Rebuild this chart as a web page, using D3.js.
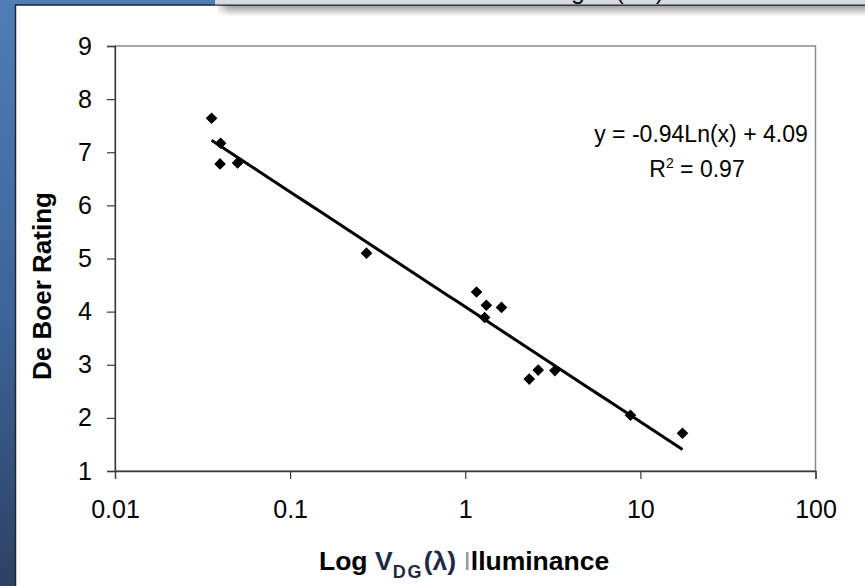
<!DOCTYPE html>
<html>
<head>
<meta charset="utf-8">
<script src="https://cdn.jsdelivr.net/npm/d3@7"></script>
<style>
  html, body { margin: 0; padding: 0; background: #ffffff; }
  svg { display: block; font-family: "Liberation Sans", Arial, sans-serif; }
</style>
</head>
<body>
<svg id="chart" width="865" height="586"></svg>
<script>
// Measured samples: luminance ratio (log scale) vs. De Boer glare rating
const illuminance = [0.0356, 0.0401, 0.0398, 0.0501, 0.273, 1.16, 1.32, 1.61, 1.29, 2.32, 2.61, 3.25, 8.78, 17.4];
const rating      = [7.64,   7.17,   6.78,   6.80,   5.10,  4.37, 4.12, 4.08, 3.89, 2.73, 2.90, 2.89, 2.05, 1.71];

const xTicks = [0.01, 0.1, 1, 10, 100];
const xTickLabels = ["0.01", "0.1", "1", "10", "100"];
const yTicks = [1, 2, 3, 4, 5, 6, 7, 8, 9];

// Logarithmic trendline y = a·ln(x) + b
const trendSlope = -0.94;
const trendIntercept = 4.09;
const trendR2 = 0.97;

const svg = d3.select("#chart");
const W = 865, H = 586;
const plot = { left: 115, right: 815.5, top: 46, bottom: 471 };

// ---- slide background: blue edge, white panel, header bar with shadow ----
const defs = svg.append("defs");
const blueGrad = defs.append("linearGradient").attr("id", "blueGrad")
  .attr("x1", 0).attr("y1", 0).attr("x2", 0).attr("y2", 1);
blueGrad.append("stop").attr("offset", "0%").attr("stop-color", "#4f7db6");
blueGrad.append("stop").attr("offset", "55%").attr("stop-color", "#3d6397");
blueGrad.append("stop").attr("offset", "100%").attr("stop-color", "#2b4264");

const shadowGrad = defs.append("linearGradient").attr("id", "shadowGrad")
  .attr("x1", 0).attr("y1", 0).attr("x2", 0).attr("y2", 1);
shadowGrad.append("stop").attr("offset", "0%").attr("stop-color", "#000").attr("stop-opacity", 0.38);
shadowGrad.append("stop").attr("offset", "100%").attr("stop-color", "#000").attr("stop-opacity", 0);

const shadowEdge = defs.append("linearGradient").attr("id", "shadowEdge")
  .attr("x1", 0).attr("y1", 0).attr("x2", 1).attr("y2", 0);
shadowEdge.append("stop").attr("offset", "0%").attr("stop-color", "#fff").attr("stop-opacity", 1);
shadowEdge.append("stop").attr("offset", "100%").attr("stop-color", "#fff").attr("stop-opacity", 0);

defs.append("clipPath").attr("id", "headerClip")
  .append("rect").attr("x", 215).attr("y", 0).attr("width", W - 215).attr("height", 5);

svg.append("rect").attr("x", 0).attr("y", 0).attr("width", W).attr("height", H).attr("fill", "url(#blueGrad)");
svg.append("rect").attr("x", 15.5).attr("y", 5).attr("width", W - 15.5).attr("height", H - 5).attr("fill", "#ffffff");
svg.append("path").attr("d", `M15.5,${H}V5H${W}`).attr("fill", "none").attr("stroke", "#1d2633").attr("stroke-width", 1.5);

// header bar shadow
svg.append("rect").attr("x", 218).attr("y", 5.5).attr("width", W - 218).attr("height", 11).attr("fill", "url(#shadowGrad)");
svg.append("rect").attr("x", 215).attr("y", 5.5).attr("width", 14).attr("height", 11).attr("fill", "url(#shadowEdge)");

// header bar (only the lowest strip of its caption is visible)
svg.append("rect").attr("x", 215).attr("y", 0).attr("width", W - 215).attr("height", 5).attr("fill", "#d6dae1");
svg.append("text").attr("clip-path", "url(#headerClip)")
  .attr("x", 664).attr("y", -1).attr("text-anchor", "end")
  .attr("font-size", 25).attr("fill", "#111")
  .text("De Boer vs. Log V (lux)");
svg.append("line").attr("x1", 215).attr("x2", W).attr("y1", 5).attr("y2", 5)
  .attr("stroke", "#2a2a2a").attr("stroke-width", 1.2);

// ---- scales ----
const x = d3.scaleLog().domain([0.01, 100]).range([plot.left, plot.right]);
const y = d3.scaleLinear().domain([1, 9]).range([plot.bottom, plot.top]);

// plot frame
svg.append("rect")
  .attr("x", plot.left).attr("y", plot.top)
  .attr("width", plot.right - plot.left).attr("height", plot.bottom - plot.top)
  .attr("fill", "#ffffff").attr("stroke", "#8a8a8a").attr("stroke-width", 1.5);

// ---- axes ----
const yAxis = svg.append("g").attr("transform", `translate(${plot.left},0)`)
  .call(d3.axisLeft(y).tickValues(yTicks).tickSize(8).tickPadding(15).tickFormat(d3.format("d")));
const xAxis = svg.append("g").attr("transform", `translate(0,${plot.bottom})`)
  .call(d3.axisBottom(x).tickValues(xTicks).tickSize(8).tickPadding(21)
    .tickFormat((d, i) => xTickLabels[i]));

[yAxis, xAxis].forEach(g => {
  g.select(".domain").attr("stroke", "#3a3a3a").attr("stroke-width", 1.3);
  g.selectAll(".tick line").attr("stroke", "#3a3a3a").attr("stroke-width", 1.2);
  g.selectAll(".tick text").attr("fill", "#000").attr("font-size", 25)
    .attr("font-family", "'Liberation Sans', Arial, sans-serif");
});

// ---- trendline ----
const xMin = d3.min(illuminance), xMax = d3.max(illuminance);
const trendPts = d3.range(0, 41).map(i => {
  const xv = Math.exp(Math.log(xMin) + (Math.log(xMax) - Math.log(xMin)) * i / 40);
  return [xv, trendSlope * Math.log(xv) + trendIntercept];
});
svg.append("path")
  .datum(trendPts)
  .attr("fill", "none").attr("stroke", "#000").attr("stroke-width", 3)
  .attr("stroke-linejoin", "round")
  .attr("d", d3.line().x(d => x(d[0])).y(d => y(d[1])));

// ---- data markers (diamonds) ----
const diamond = d3.symbol().type(d3.symbolSquare).size(68);
svg.append("g").selectAll("path")
  .data(illuminance.map((v, i) => [v, rating[i]]))
  .join("path")
  .attr("d", diamond)
  .attr("transform", d => `translate(${x(d[0])},${y(d[1])}) rotate(45)`)
  .attr("fill", "#000");

// ---- trendline equation ----
const eq = svg.append("g").attr("font-size", 23).attr("fill", "#000").attr("text-anchor", "middle");
eq.append("text").attr("x", 701).attr("y", 142)
  .text(`y = ${trendSlope.toFixed(2)}Ln(x) + ${trendIntercept.toFixed(2)}`);
const r2 = eq.append("text").attr("x", 697).attr("y", 177);
r2.append("tspan").text("R");
r2.append("tspan").attr("font-size", 14).attr("dy", -9).text("2");
r2.append("tspan").attr("dy", 9).text(` = ${trendR2.toFixed(2)}`);

// ---- axis titles ----
svg.append("text")
  .attr("transform", "translate(51,286) rotate(-90)")
  .attr("text-anchor", "middle").attr("font-size", 26).attr("font-weight", "bold").attr("fill", "#000")
  .text("De Boer Rating");

const xt = svg.append("text").attr("x", 319).attr("y", 570)
  .attr("font-size", 26.5).attr("font-weight", "bold").attr("fill", "#000");
xt.append("tspan").text("Log ");
xt.append("tspan").attr("fill", "#1e2a44").text("V");
xt.append("tspan").attr("fill", "#1e2a44").attr("font-size", 18).attr("dy", 8).attr("letter-spacing", 2).text("DG");
xt.append("tspan").attr("fill", "#1e2a44").attr("dy", -8).text("(λ)");
xt.append("tspan").text(" ");
xt.append("tspan").attr("fill", "#9a9a9a").attr("font-weight", "normal").text("I");
xt.append("tspan").text("lluminance");
</script>
</body>
</html>
